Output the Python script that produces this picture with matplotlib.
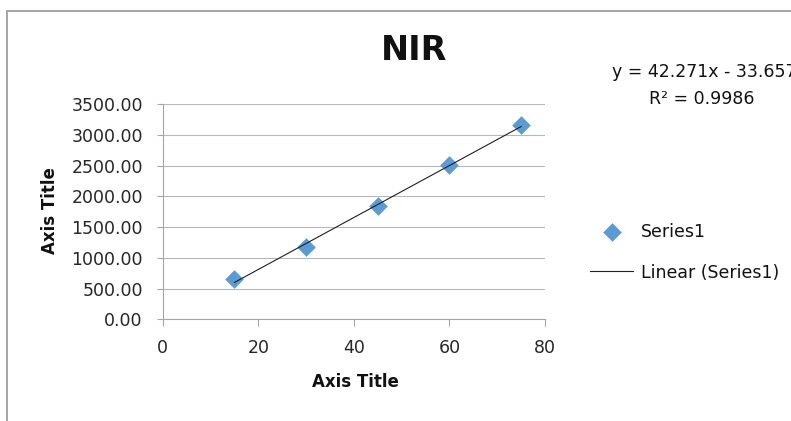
import numpy as np
import matplotlib
matplotlib.use("Agg")
import matplotlib.pyplot as plt
from matplotlib.lines import Line2D

plt.rcParams['font.family'] = ['DejaVu Sans']

# data
conc = np.array([15, 30, 45, 60, 75])
signal = np.array([648, 1178, 1852, 2510, 3155])
x_ticks = [0, 20, 40, 60, 80]
y_ticks = [0, 500, 1000, 1500, 2000, 2500, 3000, 3500]
eq_text = "y = 42.271x - 33.657"
r2_text = "R² = 0.9986"

W, H = 791, 421
fig = plt.figure(figsize=(W / 100, H / 100), dpi=100)
ax = fig.add_axes([162.7 / W, 1 - 319.3 / H, (545 - 162.7) / W, (319.3 - 104.3) / H])

# chart frame (left and top edges visible)
fig.add_artist(Line2D([7 / W, 7 / W], [0, 1 - 10.5 / H], color="#a6a6a6", lw=1.4))
fig.add_artist(Line2D([7 / W, 1], [1 - 10.5 / H, 1 - 10.5 / H], color="#a6a6a6", lw=1.4))

ax.scatter(conc, signal, marker="D", s=90, color="#5b9bd5", zorder=3, label="Series1",
           linewidths=0)

slope, icpt = np.polyfit(conc, signal, 1)
xs = np.array([conc.min(), conc.max()])
ax.plot(xs, slope * xs + icpt, color="#202020", lw=0.8, zorder=4, label="Linear (Series1)")

ax.set_xlim(0, 80)
ax.set_ylim(0, 3500)
ax.set_xticks(x_ticks)
ax.set_yticks(y_ticks)
ax.set_yticklabels([f"{v:.2f}" for v in y_ticks])
ax.grid(axis="y", color="#b8b8b8", lw=0.8)
ax.set_axisbelow(True)
for s in ["top", "right"]:
    ax.spines[s].set_visible(False)
for s in ["left", "bottom"]:
    ax.spines[s].set_color("#a6a6a6")
    ax.spines[s].set_linewidth(0.8)
ax.tick_params(axis="x", length=5, width=0.8, color="#a6a6a6", pad=9, labelsize=12.5,
               labelcolor="#262626")
ax.tick_params(axis="y", length=4.3, width=0.8, color="#a6a6a6", pad=10, labelsize=12.5,
               labelcolor="#262626")

fig.text(414 / W, 1 - 50 / H, "NIR", ha="center", va="center", fontsize=24,
         fontweight="bold", color="#111111")
fig.text(355 / W, 1 - 382 / H, "Axis Title", ha="center", va="center", fontsize=12,
         fontweight="bold", color="#111111")
fig.text(50 / W, 1 - 211 / H, "Axis Title", ha="center", va="center", fontsize=12,
         fontweight="bold", rotation=90, color="#111111")

# trendline label, partly running off the right edge as in the original
fig.text(612 / W, 1 - 72 / H, eq_text, ha="left", va="center", fontsize=12.5,
         color="#111111")
fig.text(702 / W, 1 - 99 / H, r2_text, ha="center", va="center", fontsize=12.5,
         color="#111111")

leg = ax.legend(loc="upper left", bbox_to_anchor=(590 / W, 1 - 223 / H),
                bbox_transform=fig.transFigure, frameon=False, fontsize=12.5,
                handlelength=2.5, handletextpad=0.45, labelspacing=1.3, borderpad=0,
                borderaxespad=0, scatterpoints=1)
for t in leg.get_texts():
    t.set_color("#111111")

fig.savefig("out.png", dpi=100)
